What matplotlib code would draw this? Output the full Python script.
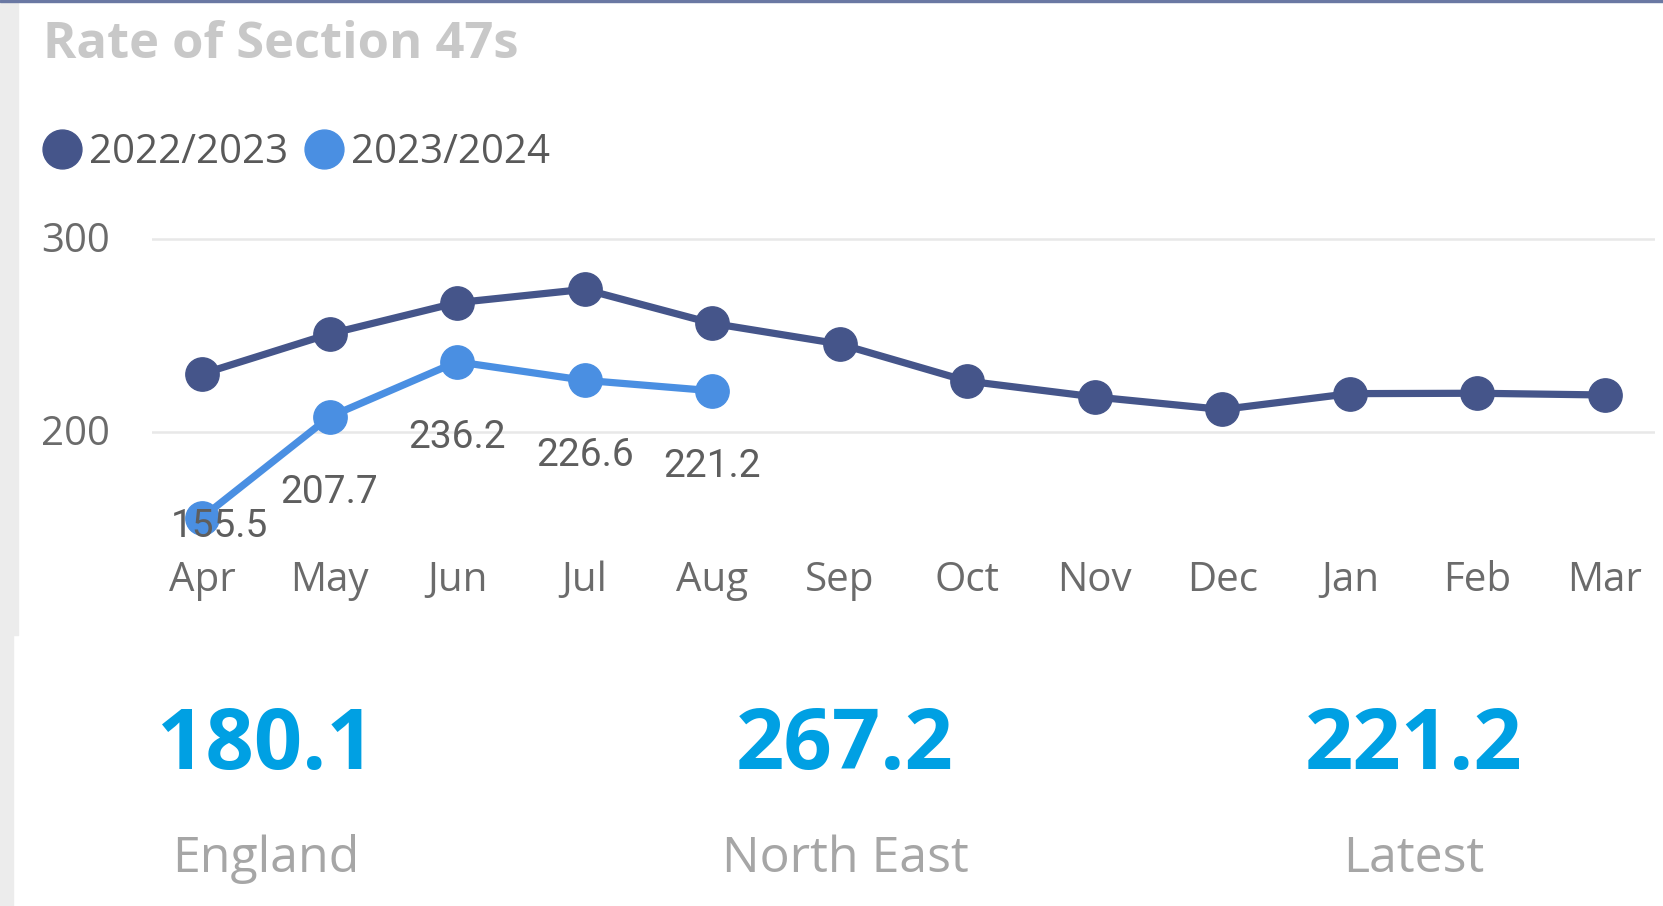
import matplotlib.pyplot as plt
from matplotlib.lines import Line2D
from matplotlib.patches import Rectangle
from matplotlib.transforms import ScaledTranslation

# monthly rate of section 47s
months = ['Apr', 'May', 'Jun', 'Jul', 'Aug', 'Sep', 'Oct', 'Nov', 'Dec', 'Jan', 'Feb', 'Mar']
rate_2223 = [229.9, 250.6, 266.8, 273.7, 256.1, 245.4, 226.2, 218.0, 211.5, 219.7, 219.9, 219.0]
rate_2324 = [155.5, 207.7, 236.2, 226.6, 221.2]
series_names = ['2022/2023', '2023/2024']

# summary cards
card_values = ['180.1', '267.2', '221.2']
card_labels = ['England', 'North East', 'Latest']

dark = '#45558a'
light = '#4a8fe2'
W, H = 1663, 906

fig = plt.figure(figsize=(W / 100, H / 100), dpi=100)
fig.patch.set_facecolor('white')

# left grey strip and top border
fig.patches.append(Rectangle((0, 1 - 635 / H), 18 / W, 635 / H, transform=fig.transFigure,
                             color='#ececec', zorder=0))
fig.patches.append(Rectangle((0, 0), 13 / W, 1 - 635 / H, transform=fig.transFigure,
                             color='#ececec', zorder=0))
fig.patches.append(Rectangle((0, 1 - 1.6 / H), 1, 1.6 / H, transform=fig.transFigure,
                             color='#6a78a3', zorder=0))

ax = fig.add_axes([152 / W, 1 - 547.6 / H, 1503 / W, (547.6 - 219.2) / H])
x = list(range(len(months)))
ax.plot(x, rate_2223, color=dark, lw=5.2, marker='o', ms=24, zorder=3)
ax.plot(x[:len(rate_2324)], rate_2324, color=light, lw=5.2, marker='o', ms=24, zorder=4)

# data labels under the 2023/2024 points
offsets = [(17, -19), (0, -86), (0, -86), (0, -86), (0, -86)]
for i, v in enumerate(rate_2324):
    dx, dy = offsets[i]
    ax.annotate(f'{v:.1f}', (x[i], v), xytext=(dx * 0.72, dy * 0.72), textcoords='offset points',
                ha='center', va='baseline', fontsize=28, family='Roboto', color='#5e5e5e', zorder=5)

ax.set_xlim(-0.392, 11.392)
ax.set_ylim(140, 310)
ax.set_yticks([200, 300])
ax.set_xticks(x)
ax.set_xticklabels(months)
ax.tick_params(length=0, labelsize=29, labelcolor='#6b6b6b', labelfontfamily='Open Sans')
ax.tick_params(axis='y', pad=30)
ax.tick_params(axis='x', pad=9)
up = ScaledTranslation(0, 1.2 / 72, fig.dpi_scale_trans)
for lab in ax.get_yticklabels():
    lab.set_transform(lab.get_transform() + up)
ax.grid(axis='y', color='#e8e8e8', lw=1.8)
ax.set_axisbelow(True)
for s in ax.spines.values():
    s.set_visible(False)
ax.patch.set_alpha(0)

# title
fig.text(43 / W, 1 - 58 / H, 'Rate of Section 47s', fontsize=36.5, fontweight='bold',
         family='Open Sans', color='#c8c8c8', va='baseline')

# legend
handles = [Line2D([], [], ls='', marker='o', ms=28, color=c) for c in (dark, light)]
fig.legend(handles, series_names, loc='center left', bbox_to_anchor=(42.5 / W, 1 - 153 / H),
           frameon=False, ncol=2, prop={'family': 'Open Sans', 'size': 29},
           labelcolor='#595959', handlelength=0.97, handletextpad=0.18, columnspacing=0.42,
           borderpad=0, borderaxespad=0)

# cards
card_x = [266, 845, 1414]
for cx, val, lab in zip(card_x, card_values, card_labels):
    fig.text(cx / W, 1 - 769 / H, val, fontsize=61, fontweight='bold', family='Open Sans',
             color='#00a0e3', ha='center', va='baseline')
    fig.text(cx / W, 1 - 872 / H, lab, fontsize=36, family='Open Sans',
             color='#a6a6a6', ha='center', va='baseline')

fig.savefig('out.png', dpi=100)
